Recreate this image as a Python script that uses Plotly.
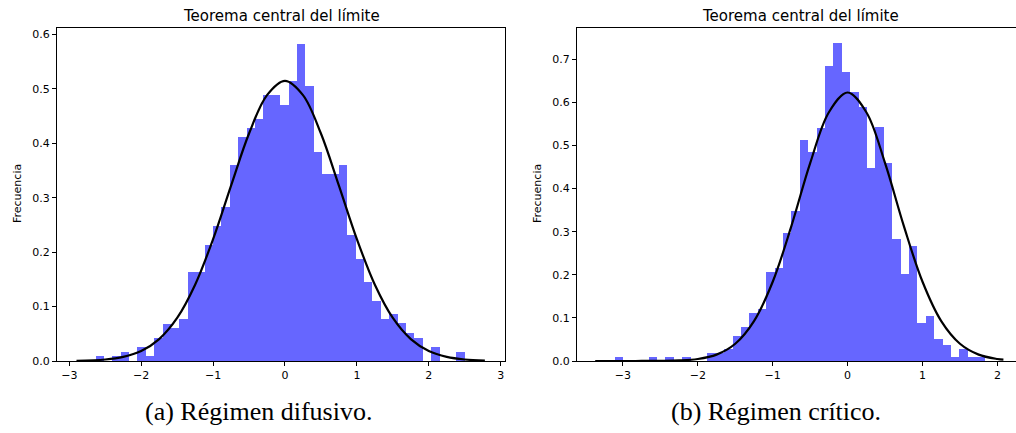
import plotly.graph_objects as go

# ---------------- data ----------------
title_text = "Teorema central del límite"
ylabel_text = "Frecuencia"
caption_a = "(a) Régimen difusivo."
caption_b = "(b) Régimen crítico."

# Panel (a): histogram (density) – 44 bins
a_bin_start = -2.635
a_bin_width = 0.1167
a_heights = [0.0086, 0.0, 0.0086, 0.0171, 0.0, 0.0257, 0.0086, 0.0428, 0.0685, 0.0600,
             0.0771, 0.163, 0.163, 0.214, 0.248, 0.283, 0.360, 0.411, 0.428, 0.445,
             0.488, 0.488, 0.471, 0.514, 0.583, 0.505, 0.385, 0.343, 0.343, 0.360,
             0.231, 0.188, 0.146, 0.111, 0.077, 0.086, 0.069, 0.051, 0.043, 0.0,
             0.026, 0.0, 0.0, 0.017]
# Panel (a): fitted normal curve
a_curve_x = [-2.9, -2.5, -2.25, -2.0, -1.75, -1.5, -1.25, -1.0, -0.75, -0.5, -0.25, 0.0,
             0.25, 0.5, 0.75, 1.0, 1.25, 1.5, 1.75, 2.0, 2.25, 2.5, 2.78]
a_curve_y = [0.0005, 0.0028, 0.0076, 0.0184, 0.0403, 0.0791, 0.1402, 0.2239, 0.3223, 0.4181,
             0.4887, 0.515, 0.4887, 0.4181, 0.3223, 0.2239, 0.1402, 0.0791, 0.0403, 0.0184,
             0.0076, 0.0028, 0.0008]
a_xticks = [-3, -2, -1, 0, 1, 2, 3]
a_yticks = [0.0, 0.1, 0.2, 0.3, 0.4, 0.5, 0.6]

# Panel (b): histogram (density) – 44 bins
b_bin_start = -3.105
b_bin_width = 0.1121
b_heights = [0.0089, 0.0, 0.0, 0.0, 0.0089, 0.0, 0.0089, 0.0, 0.0089, 0.0,
             0.0, 0.0178, 0.0178, 0.027, 0.058, 0.080, 0.111, 0.120, 0.206, 0.215,
             0.297, 0.349, 0.513, 0.484, 0.541, 0.684, 0.737, 0.670, 0.623, 0.589,
             0.447, 0.542, 0.460, 0.283, 0.201, 0.267, 0.088, 0.105, 0.052, 0.037,
             0.0089, 0.029, 0.0089, 0.0089]
b_curve_x = [-3.37, -3.0, -2.75, -2.5, -2.25, -2.0, -1.75, -1.5, -1.25, -1.0, -0.75, -0.5,
             -0.25, 0.0, 0.25, 0.5, 0.75, 1.0, 1.25, 1.5, 1.75, 2.0, 2.08]
b_curve_y = [0.0, 0.0, 0.0001, 0.0003, 0.0013, 0.0047, 0.0148, 0.0400, 0.0925, 0.1838,
             0.3135, 0.4591, 0.5772, 0.623, 0.5772, 0.4591, 0.3135, 0.1838, 0.0925, 0.0400,
             0.0148, 0.0047, 0.0032]
b_xticks = [-3, -2, -1, 0, 1, 2]
b_yticks = [0.0, 0.1, 0.2, 0.3, 0.4, 0.5, 0.6, 0.7]

# ---------------- figure ----------------
W, H = 1016, 433
BAR_COLOR = "rgba(0,0,255,0.6)"

def centers(start, width, n):
    return [start + width * (i + 0.5) for i in range(n)]

fig = go.Figure()
fig.add_trace(go.Bar(x=centers(a_bin_start, a_bin_width, len(a_heights)), y=a_heights,
                     width=a_bin_width, marker=dict(color=BAR_COLOR, line=dict(width=0)),
                     xaxis="x", yaxis="y", showlegend=False, hoverinfo="skip"))
fig.add_trace(go.Scatter(x=a_curve_x, y=a_curve_y, mode="lines",
                         line=dict(color="black", width=2.2, shape="spline", smoothing=1.0),
                         xaxis="x", yaxis="y", showlegend=False, hoverinfo="skip"))
fig.add_trace(go.Bar(x=centers(b_bin_start, b_bin_width, len(b_heights)), y=b_heights,
                     width=b_bin_width, marker=dict(color=BAR_COLOR, line=dict(width=0)),
                     xaxis="x2", yaxis="y2", showlegend=False, hoverinfo="skip"))
fig.add_trace(go.Scatter(x=b_curve_x, y=b_curve_y, mode="lines",
                         line=dict(color="black", width=2.2, shape="spline", smoothing=1.0),
                         xaxis="x2", yaxis="y2", showlegend=False, hoverinfo="skip"))

def px_x(p):
    return p / W

def px_y(p):
    return (H - p) / H

tick_font = dict(family="DejaVu Sans", size=11, color="black")
common_axis = dict(showline=True, linecolor="black", linewidth=1, ticks="outside",
                   ticklen=4, tickwidth=1, tickcolor="black", showgrid=False,
                   zeroline=False, tickfont=tick_font, fixedrange=True, automargin=False)

y_dom = [px_y(361), px_y(28)]

fig.update_layout(
    width=W, height=H, autosize=False,
    margin=dict(l=0, r=0, t=0, b=0, pad=0),
    paper_bgcolor="white", plot_bgcolor="white",
    barmode="overlay", bargap=0,
    xaxis=dict(domain=[px_x(57), px_x(505)], range=[-3.171, 3.06], tickvals=a_xticks,
               mirror=True, anchor="y", **common_axis),
    yaxis=dict(domain=y_dom, range=[0, 0.612], tickvals=a_yticks, tickformat=".1f",
               mirror=True, anchor="x", **common_axis),
    xaxis2=dict(domain=[px_x(577), 1.0], range=[-3.613, 2.248], tickvals=b_xticks,
                mirror=True, anchor="y2", **common_axis),
    yaxis2=dict(domain=y_dom, range=[0, 0.7726], tickvals=b_yticks, tickformat=".1f",
                mirror=False, anchor="x2", **common_axis),
)

title_font = dict(family="DejaVu Sans", size=15, color="black")
label_font = dict(family="DejaVu Sans", size=11, color="black")
cap_font = dict(family="Liberation Serif", size=26, color="black")

annotations = [
    dict(text=title_text, x=px_x(281), y=px_y(16), font=title_font),
    dict(text=title_text, x=px_x(800), y=px_y(16), font=title_font),
    dict(text=ylabel_text, x=px_x(17), y=px_y(194), font=label_font, textangle=-90),
    dict(text=ylabel_text, x=px_x(537), y=px_y(194), font=label_font, textangle=-90),
    dict(text=caption_a, x=px_x(258), y=px_y(411), font=cap_font),
    dict(text=caption_b, x=px_x(776), y=px_y(411), font=cap_font),
]
for a in annotations:
    a.update(xref="paper", yref="paper", xanchor="center", yanchor="middle",
             showarrow=False)
fig.update_layout(annotations=annotations)

fig.write_html("out.html",
               config={"displayModeBar": False, "staticPlot": True},
               post_script="document.body.style.margin='0';document.body.style.overflow='hidden';")
